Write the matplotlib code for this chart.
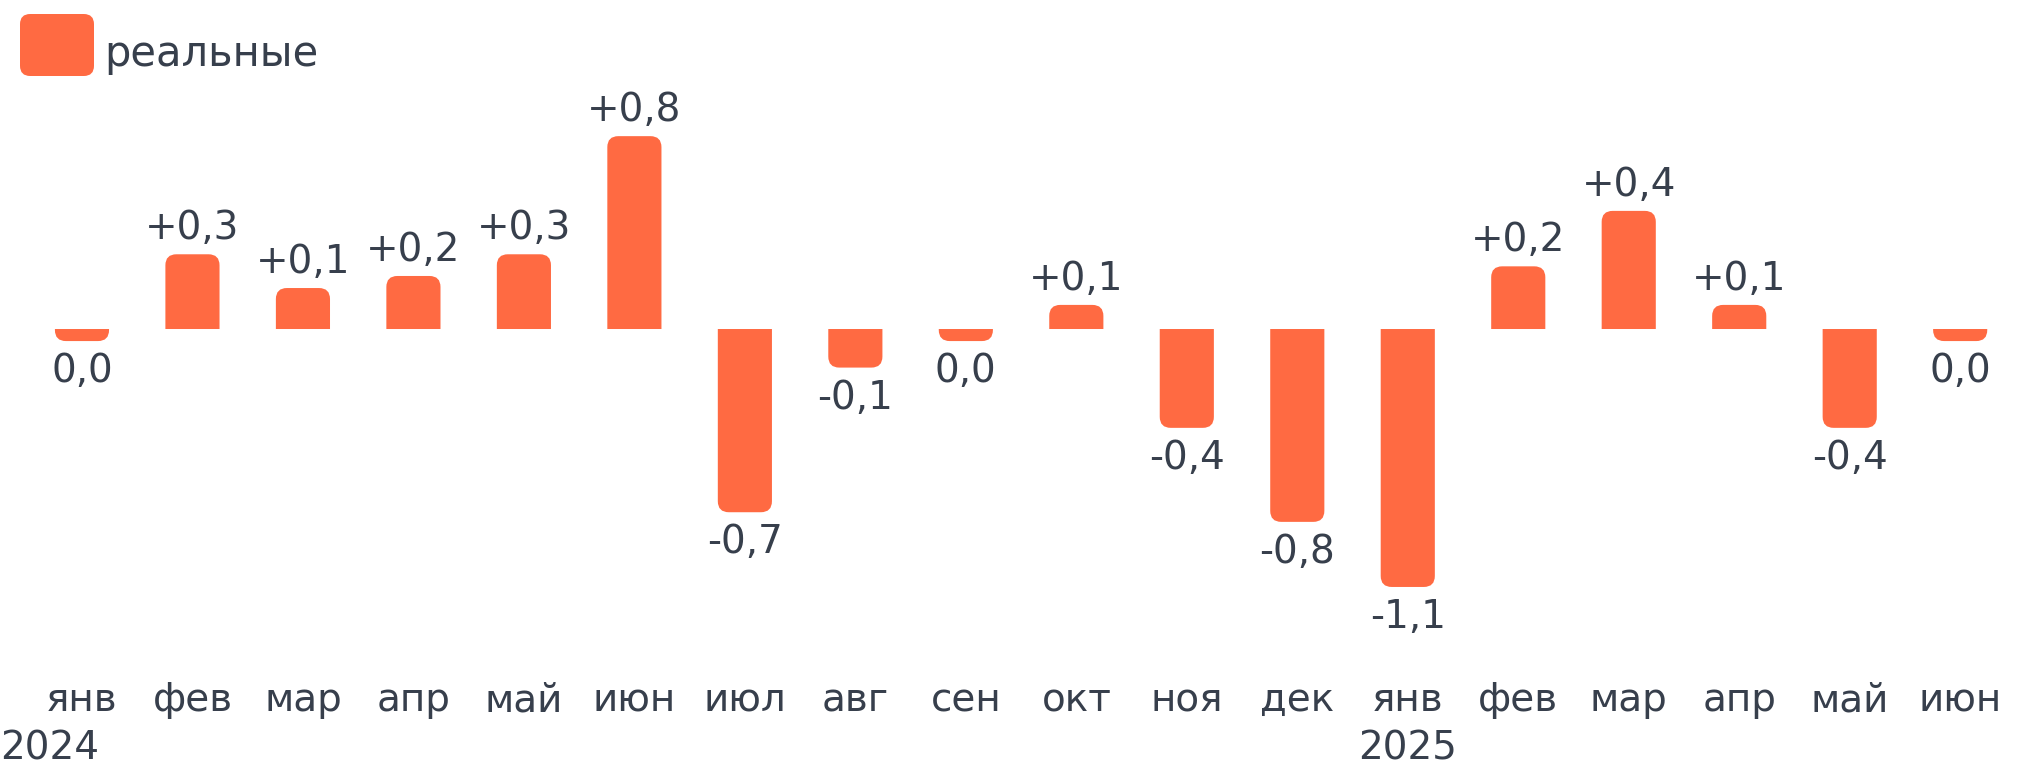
import matplotlib
matplotlib.use("Agg")
import matplotlib.pyplot as plt
from matplotlib.path import Path
from matplotlib.patches import PathPatch, FancyBboxPatch
import matplotlib.transforms as mtransforms
import numpy as np

# data (bar heights), labels as printed
months = ['янв', 'фев', 'мар', 'апр', 'май', 'июн', 'июл', 'авг', 'сен',
          'окт', 'ноя', 'дек', 'янв', 'фев', 'мар', 'апр', 'май', 'июн']
years = {0: '2024', 12: '2025'}
values = [-0.05, 0.31, 0.17, 0.22, 0.31, 0.80, -0.76, -0.16, -0.05,
          0.10, -0.41, -0.80, -1.07, 0.26, 0.49, 0.10, -0.41, -0.05]
value_labels = ['0,0', '+0,3', '+0,1', '+0,2', '+0,3', '+0,8', '-0,7', '-0,1', '0,0',
                '+0,1', '-0,4', '-0,8', '-1,1', '+0,2', '+0,4', '+0,1', '-0,4', '0,0']
series_name = 'реальные'

BAR_COLOR = '#FF6A42'
TEXT_COLOR = '#373f4c'
FS = 28

W, H = 2032, 769
fig = plt.figure(figsize=(W / 100, H / 100), dpi=100)
fig.patch.set_facecolor('white')

# axes placed in pixels: top 120, bottom 640
ax_top, ax_bot = 120, 640
ax = fig.add_axes([0, 1 - ax_bot / H, 1, (ax_bot - ax_top) / H])
ax.set_xlim(-0.742, 17.65)
ax.set_ylim(-1.29, 0.867)
ax.axis('off')

# pixel sizes -> data units
px_x = (17.65 + 0.742) / W
px_y = (0.867 + 1.29) / (ax_bot - ax_top)
bar_w = 0.49
rx, ry = 11 * px_x, 11 * px_y


def rounded_bar(x, v):
    """bar from 0 to v, rounded only at the far end"""
    s = 1 if v >= 0 else -1
    r_y = min(ry, abs(v))
    x0, x1 = x - bar_w / 2, x + bar_w / 2
    verts = [(x0, 0), (x0, v - s * r_y), (x0, v), (x0 + rx, v),
             (x1 - rx, v), (x1, v), (x1, v - s * r_y), (x1, 0), (x0, 0)]
    codes = [Path.MOVETO, Path.LINETO, Path.CURVE3, Path.CURVE3,
             Path.LINETO, Path.CURVE3, Path.CURVE3, Path.LINETO, Path.CLOSEPOLY]
    return PathPatch(Path(verts, codes), facecolor=BAR_COLOR, edgecolor='none')


x = np.arange(len(values))
for xi, v, lab in zip(x, values, value_labels):
    ax.add_patch(rounded_bar(xi, v))
    if v >= 0:
        ax.annotate(lab, (xi, v), xytext=(0, 5), textcoords='offset points',
                    ha='center', va='bottom', fontsize=FS, color=TEXT_COLOR)
    else:
        ax.annotate(lab, (xi, v), xytext=(0, -8), textcoords='offset points',
                    ha='center', va='top', fontsize=FS, color=TEXT_COLOR)

# month labels and years
trans = mtransforms.blended_transform_factory(ax.transData, fig.transFigure)
for xi, m in zip(x, months):
    ax.text(xi, 1 - 700 / H, m, transform=trans, ha='center', va='center',
            fontsize=FS, color=TEXT_COLOR)
for i, yr in years.items():
    if i == 0:
        fig.text(0, 1 - 749 / H, yr, ha='left', va='center',
                 fontsize=FS, color=TEXT_COLOR)
    else:
        ax.text(i, 1 - 749 / H, yr, transform=trans, ha='center', va='center',
                fontsize=FS, color=TEXT_COLOR)

# legend: rounded square + label
sq = FancyBboxPatch((20 / W, 1 - 76 / H), 74 / W, 62 / H,
                    boxstyle='round,pad=0,rounding_size=0.005',
                    mutation_aspect=W / H, transform=fig.transFigure,
                    facecolor=BAR_COLOR, edgecolor='none')
fig.patches.append(sq)
fig.text(104 / W, 1 - 54 / H, series_name, ha='left', va='center',
         fontsize=30, color=TEXT_COLOR)

fig.savefig('out.png', dpi=100, facecolor='white')
